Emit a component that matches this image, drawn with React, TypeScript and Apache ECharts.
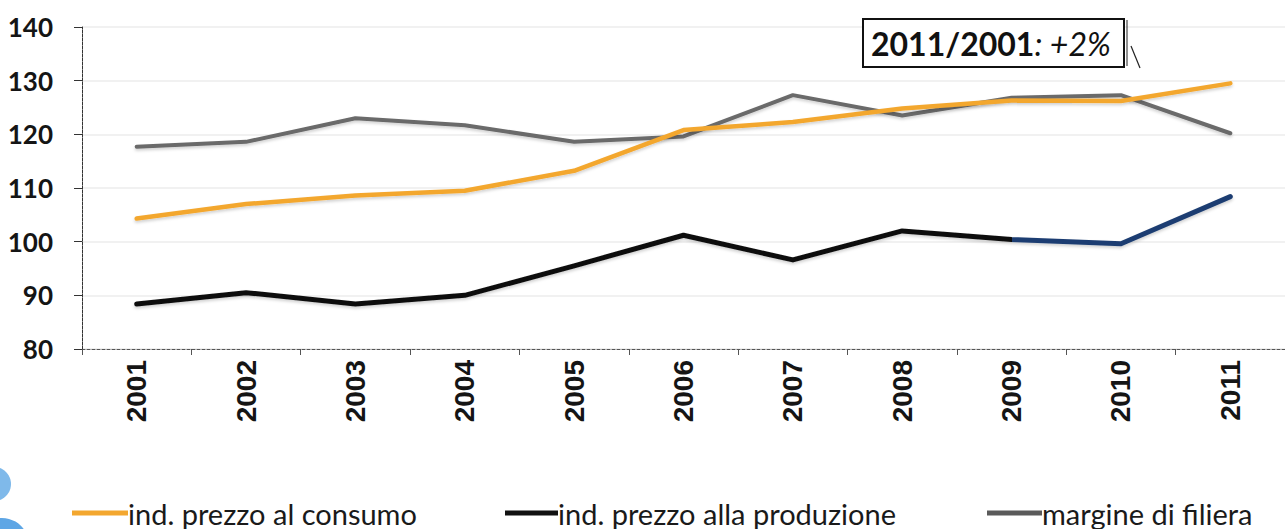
import React, { useEffect, useRef } from "react";
import * as echarts from "echarts";

const years = ["2001", "2002", "2003", "2004", "2005", "2006", "2007", "2008", "2009", "2010", "2011"];
const consumo = [104.3, 107.0, 108.6, 109.5, 113.2, 120.8, 122.3, 124.8, 126.3, 126.2, 129.5];
const produzione = [88.4, 90.5, 88.4, 90.0, 95.5, 101.2, 96.6, 102.0, 100.4, 99.6, 108.4];
const margine = [117.7, 118.6, 123.0, 121.7, 118.6, 119.6, 127.3, 123.5, 126.8, 127.3, 120.2];
const names = ["ind. prezzo al consumo", "ind. prezzo alla produzione", "margine di filiera"];
const yTicks = { min: 80, max: 140, interval: 10 };
const noteBold = "2011/2001";
const noteItalic = ": +2%";
const navyFrom = 8; // index of 2009, where the producer line turns navy

export default function App() {
  const ref = useRef<HTMLDivElement>(null);
  useEffect(() => {
    document.body.style.margin = "0";
    const chart = echarts.init(ref.current!, null, { renderer: "svg" });
    const legendText = { fontFamily: "Lato", fontSize: 29, color: "#1a1a1a", padding: [0, 0, 0, -5], lineHeight: 30 };
    const shadow = { shadowColor: "rgba(0,0,0,0.18)", shadowBlur: 3, shadowOffsetY: 2 };
    const split = navyFrom / (years.length - 1);
    const prodGradient = new echarts.graphic.LinearGradient(0, 0, 1, 0, [
      { offset: 0, color: "#111111" },
      { offset: split, color: "#111111" },
      { offset: split, color: "#1d3e72" },
      { offset: 1, color: "#1d3e72" },
    ]);
    const legendBase = { top: 498, padding: 0, itemHeight: 5, textStyle: legendText };
    chart.setOption({
      animation: false,
      backgroundColor: "#ffffff",
      grid: { left: 82, top: 27, width: 1226.5, height: 322 },
      xAxis: {
        type: "category",
        data: years,
        boundaryGap: true,
        axisLine: { lineStyle: { color: "#555", width: 1, type: [3, 2] } },
        axisTick: { show: true, length: 6, lineStyle: { color: "#555" } },
        axisLabel: {
          rotate: 90,
          margin: 11,
          fontFamily: "Liberation Sans",
          fontWeight: "bold",
          fontSize: 28,
          color: "#151515",
        },
      },
      yAxis: {
        type: "value",
        min: yTicks.min,
        max: yTicks.max,
        interval: yTicks.interval,
        axisLine: { show: true, lineStyle: { color: "#333", width: 1, type: [3, 1] } },
        axisTick: { show: true, length: 8, lineStyle: { color: "#333" } },
        splitLine: { lineStyle: { color: "#ececec", width: 1.5 } },
        axisLabel: {
          margin: 29,
          fontFamily: "Lato",
          fontWeight: "bold",
          fontSize: 26,
          color: "#151515",
        },
      },
      legend: [
        {
          ...legendBase,
          data: [{ name: names[0], itemStyle: { color: "#f3a72f" } }], left: 72, itemWidth: 56,
          icon: "path://M0,0 L56,0 L56,5 L0,5 Z",
        },
        {
          ...legendBase,
          data: [{ name: names[1], itemStyle: { color: "#111111" } }], left: 505, itemWidth: 53,
          icon: "path://M0,0 L53,0 L53,5 L0,5 Z",
        },
        {
          ...legendBase,
          data: [{ name: names[2], itemStyle: { color: "#5a5a5a" } }], left: 987, itemWidth: 55,
          icon: "path://M0,0 L55,0 L55,5 L0,5 Z",
        },
      ],
      series: [
        {
          name: names[0], type: "line", data: consumo, symbol: "none", color: "#f3a72f",
          lineStyle: { width: 4.5, color: "#f3a72f", cap: "round", join: "round", ...shadow },
          z: 3,
        },
        {
          name: names[1], type: "line", data: produzione, symbol: "none", color: "#111111",
          lineStyle: { width: 5, color: prodGradient, cap: "round", join: "round", ...shadow },
          z: 4,
        },
        {
          name: names[2], type: "line", data: margine, symbol: "none", color: "#6a6a6a",
          lineStyle: { width: 4, color: "#6a6a6a", cap: "round", join: "round", ...shadow },
          z: 2,
        },
      ],
      graphic: [
        { type: "circle", shape: { cx: -6, cy: 484, r: 17 }, style: { fill: "#7fb9ea" }, silent: true },
        { type: "circle", shape: { cx: 2, cy: 545, r: 27 }, style: { fill: "#5ea6e5" }, silent: true },
        {
          type: "rect",
          shape: { x: 863, y: 19, width: 261, height: 48 },
          style: { fill: "#ffffff", stroke: "#111", lineWidth: 2 },
          z: 10,
        },
        {
          type: "line",
          shape: { x1: 1127, y1: 20, x2: 1127, y2: 66 },
          style: { stroke: "#222", lineWidth: 1 },
          z: 10,
        },
        {
          type: "line",
          shape: { x1: 1131, y1: 46, x2: 1140, y2: 68 },
          style: { stroke: "#222", lineWidth: 1.2 },
          z: 10,
        },
        {
          type: "text",
          x: 871,
          y: 43,
          z: 11,
          style: {
            text: "{b|" + noteBold + "}{i|" + noteItalic + "}",
            verticalAlign: "middle",
            rich: {
              b: { fontFamily: "Lato", fontWeight: "bold", fontSize: 32, fill: "#111" },
              i: { fontFamily: "Lato", fontStyle: "italic", fontSize: 32, fill: "#111" },
            },
          },
        },
      ],
    });
    return () => chart.dispose();
  }, []);
  return <div ref={ref} style={{ width: 1285, height: 529 }} />;
}
